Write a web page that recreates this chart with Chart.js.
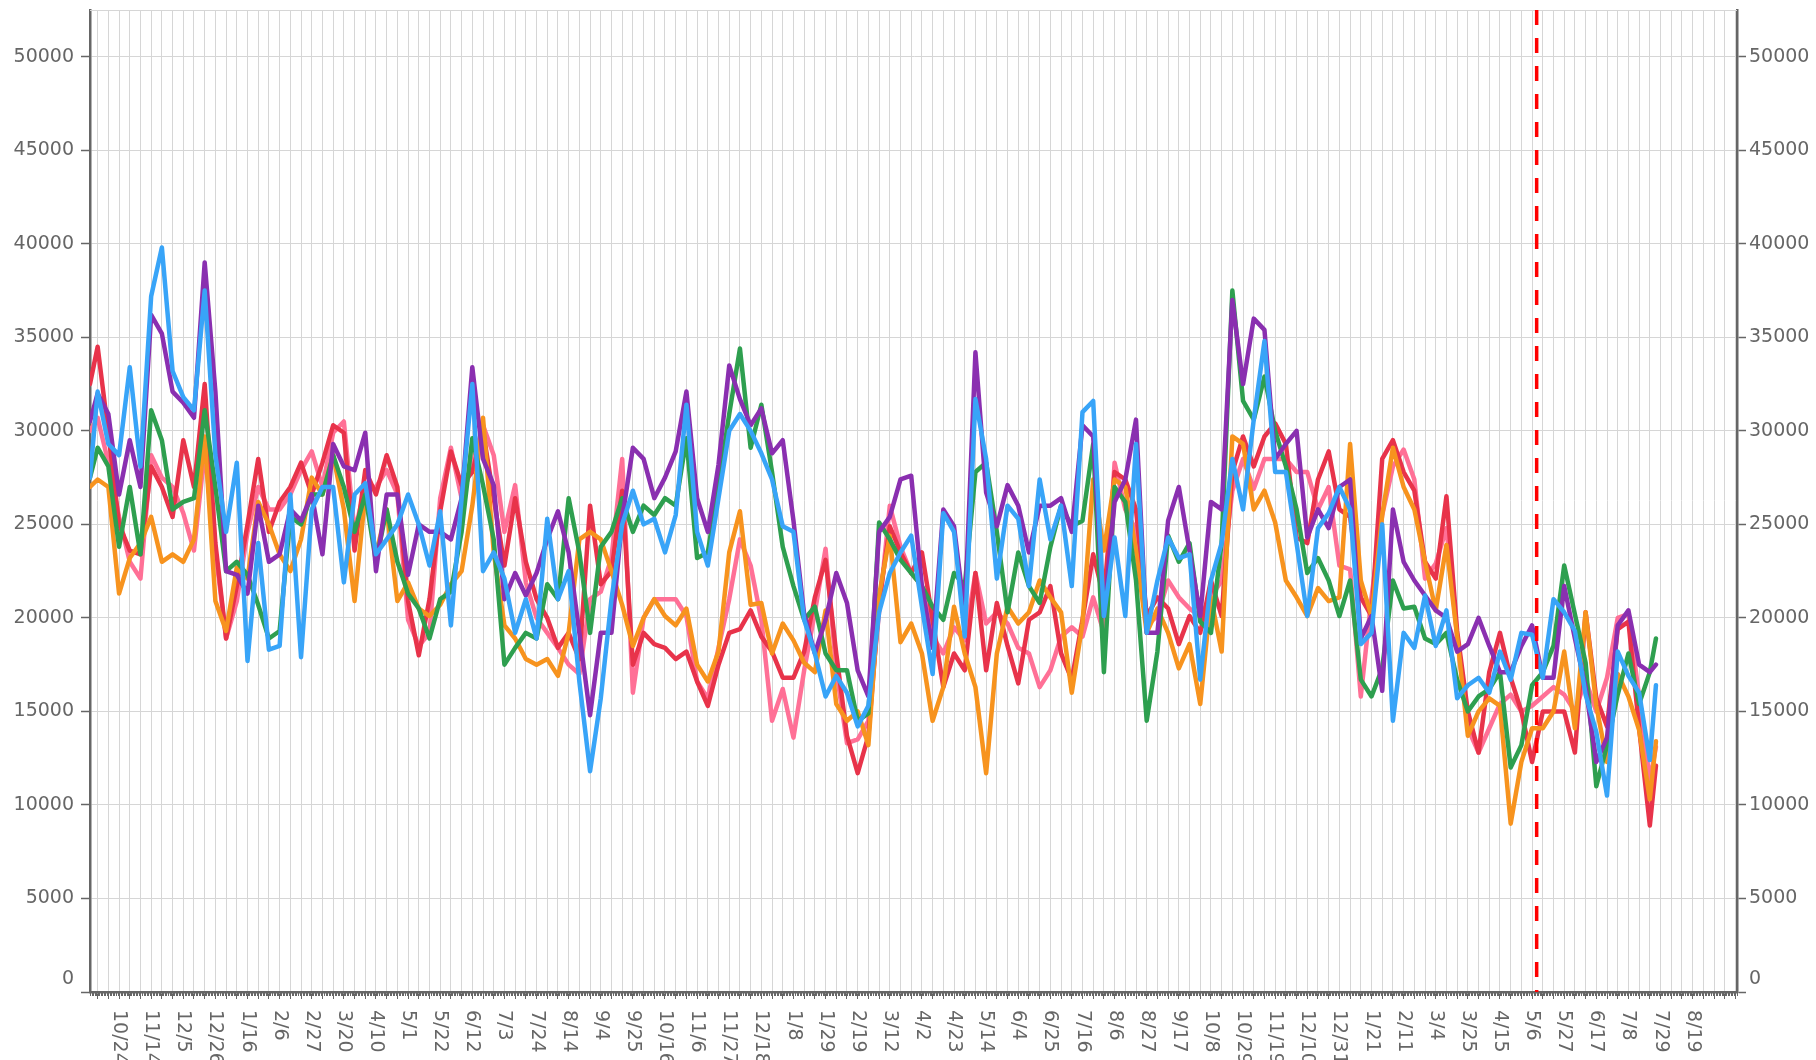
<!DOCTYPE html>
<html>
  <head>
    <meta charset="utf-8">
    <title>Daily counts</title>
    <script src="https://cdn.jsdelivr.net/npm/chart.js"></script>
    <style>
      body { margin: 0; background: #fff; }
      canvas { display: block; }
    </style>
  </head>
  <body>
    <canvas id="myChart" width="1816" height="1060"></canvas>

    <script>
      // x values are day offsets, day 0 = 2020-10-24
      const days = [
        -19, -14, -7,
        0, 7, 14, 21, 28, 35, 42, 49, 56, 63,
        70, 77, 84, 91, 98, 105, 112, 119, 126, 133,
        140, 147, 154, 161, 168, 175, 182, 189, 196, 203,
        210, 217, 224, 231, 238, 245, 252, 259, 266, 273,
        280, 287, 294, 301, 308, 315, 322, 329, 336, 343,
        350, 357, 364, 371, 378, 385, 392, 399, 406, 413,
        420, 427, 434, 441, 448, 455, 462, 469, 476, 483,
        490, 497, 504, 511, 518, 525, 532, 539, 546, 553,
        560, 567, 574, 581, 588, 595, 602, 609, 616, 623,
        630, 637, 644, 651, 658, 665, 672, 679, 686, 693,
        700, 707, 714, 721, 728, 735, 742, 749, 756, 763,
        770, 777, 784, 791, 798, 805, 812, 819, 826, 833,
        840, 847, 854, 861, 868, 875, 882, 889, 896, 903,
        910, 917, 924, 931, 938, 945, 952, 959, 966, 973,
        980, 987, 994, 1001,
        1005
      ];

      const redValues = [
        32500, 34500, 29900,
        25000, 23600, 23400, 28100, 27000, 25400, 29500, 27000, 32500, 24000,
        18900, 21700, 25000, 28500, 24600, 26200, 27000, 28300, 26600, 28300,
        30300, 29900, 23600, 27900, 26600, 28700, 27000, 20900, 18000, 21000,
        25700, 28900, 27100, 27800, 30000, 26400, 22800, 26400, 23000, 21000,
        20000, 18400, 19200, 17800, 26000, 21800, 22500, 26800, 17500, 19200,
        18600, 18400, 17800, 18200, 16600, 15300, 17500, 19200, 19400, 20400,
        19000, 18200, 16800, 16800, 18200, 21100, 23100, 18100, 13700, 11700,
        13700, 20800, 24900, 23500, 22400, 23500, 19900, 16300, 18100, 17200,
        22400, 17200, 20800, 18500, 16500, 19900, 20300, 21700, 18100, 16700,
        19900, 23400, 21100, 27800, 27400, 25800, 20100, 21100, 20500, 18600,
        20100, 19200, 22000, 20100, 27800, 29700, 28100, 29700, 30400, 29300,
        24300, 24000, 27400, 28900, 25800, 25400, 21100, 20100, 28500, 29500,
        27800, 26800, 23000, 22100, 26500, 19300, 15000, 12800, 17100, 19200,
        16800, 15000, 12300, 15000, 15000, 15000, 12800, 20300, 15700, 14200,
        19400, 19800, 14100, 8900,
        12100
      ];

      const pinkValues = [
        30000, 30700, 28300,
        25400, 23000, 22100, 28700, 27500, 27000, 25600, 23600, 28900, 23600,
        18900, 20900, 24600, 27000, 25800, 25800, 26600, 27900, 28900, 27000,
        29900, 30500, 24600, 27000, 27000, 27900, 26600, 19900, 18500, 19200,
        26400, 29100, 26400, 28200, 30300, 28700, 24600, 27100, 21900, 20000,
        19200, 18400, 17500, 17000, 21000, 21400, 23200, 28500, 16000, 20000,
        21000, 21000, 21000, 20100, 16600, 15700, 18400, 21000, 24200, 22800,
        19900, 14500, 16200, 13600, 17200, 20300, 23700, 17200, 13300, 13500,
        14500, 20300, 26000, 23800, 22400, 21700, 19000, 18100, 19500, 18800,
        22400, 19700, 20300, 19700, 18400, 18100, 16300, 17200, 19000, 19500,
        19000, 21100, 19200, 28300, 25800, 24700, 19600, 20100, 22000, 21100,
        20500, 20100, 21100, 22000, 26800, 28500, 26900, 28500, 28500, 28500,
        27800, 27800, 25800, 27000, 22800, 22600, 15800, 21100, 25500, 28100,
        29000, 27400, 22100, 22900, 24800, 19000, 14100, 12800, 14100, 15400,
        15900, 15000, 15300, 15800, 16300, 15900, 15000, 16700, 15000, 16800,
        20000, 20200, 15800, 11300,
        13100
      ];

      const orangeValues = [
        27000, 27400, 27000,
        21300, 23200, 24000, 25400, 23000, 23400, 23000, 24200, 29700, 20900,
        19300, 22700, 22100, 26200, 25000, 23400, 22500, 24200, 27500, 26600,
        28700, 25800, 20900, 26600, 23400, 25800, 20900, 21900, 20500, 20100,
        20700, 21800, 22500, 26000, 30700, 23500, 19600, 18900, 17800, 17500,
        17800, 16900, 19200, 24200, 24600, 24200, 22500, 20700, 18500, 20000,
        21000, 20100, 19600, 20500, 17500, 16600, 18200, 23500, 25700, 20700,
        20800, 18100, 19700, 18800, 17600, 17100, 20400, 15400, 14500, 15000,
        13200, 21200, 24400, 18700, 19700, 18100, 14500, 16300, 20600, 18100,
        16300, 11700, 18100, 20600, 19700, 20300, 22000, 21100, 20300, 16000,
        19700, 27400, 23600, 27400, 27000, 23600, 19200, 20500, 19200, 17300,
        18600, 15400, 21100, 18200, 29700, 29300, 25800, 26800, 25100, 22000,
        21100, 20100, 21600, 20900, 21100, 29300, 22000, 20100, 25500, 29100,
        27000, 25800, 23000, 20400, 23900, 19000, 13700, 15000, 15700, 15300,
        9000, 12300, 14100, 14100, 15000, 18200, 14100, 20300, 15300, 12300,
        17000, 15800, 14000, 10300,
        13400
      ];

      const greenValues = [
        27500, 29100, 28100,
        23800, 27000, 23400, 31100, 29500, 25800, 26200, 26400, 31100, 27000,
        22500, 23000, 22300, 20700, 18900, 19300, 25400, 25000, 26600, 26600,
        28700, 27000, 24600, 26600, 23000, 25800, 23000, 21300, 20500, 18900,
        21000, 21400, 24600, 29600, 27100, 24200, 17500, 18400, 19200, 18900,
        21800, 21000, 26400, 23500, 19200, 23800, 24600, 26400, 24600, 26000,
        25500, 26400, 26000, 29600, 23200, 23500, 27100, 30900, 34400, 29100,
        31400, 27800, 23800, 21700, 19900, 20600, 18100, 17200, 17200, 14500,
        14900, 25100, 24200, 23100, 22400, 21700, 20600, 19900, 22400, 21700,
        27800, 28300, 24600, 20300, 23500, 21700, 20800, 23800, 26000, 24900,
        25200, 29300, 17100, 27000, 26200, 22000, 14500, 18200, 24400, 23000,
        24000, 19800, 19200, 24000, 37500, 31600, 30600, 32900, 30000, 28100,
        25800, 22400, 23200, 22000, 20100, 22000, 16700, 15800, 17300, 22000,
        20500, 20600, 18900, 18600, 19200, 16700, 15000, 15800, 16200, 17100,
        12000, 13200, 16400, 17100, 18500, 22800, 20200, 17600, 11000, 13200,
        15900, 18100, 15400, 17100,
        18900
      ];

      const purpleValues = [
        30500, 32000, 30900,
        26600, 29500, 27000, 36200, 35200, 32100, 31500, 30700, 39000, 32100,
        22500, 22300, 21300, 26000, 23000, 23400, 25800, 25200, 26600, 23400,
        29300, 28100, 27900, 29900, 22500, 26600, 26600, 22300, 25000, 24600,
        24600, 24200, 26400, 33400, 28500, 27100, 21000, 22400, 21200, 22400,
        24200, 25700, 23500, 19200, 14800, 19200, 19200, 25300, 29100, 28500,
        26400, 27500, 28900, 32100, 26400, 24600, 28200, 33500, 31700, 30300,
        31200, 28800, 29500, 25200, 20200, 18100, 19900, 22400, 20800, 17200,
        15800, 24600, 25400, 27400, 27600, 21700, 18400, 25800, 24900, 20200,
        34200, 26700, 24900, 27100, 26000, 23500, 26000, 26000, 26400, 24600,
        30300, 29700, 20100, 26200, 27400, 30600, 19200, 19200, 25200, 27000,
        23600, 20100, 26200, 25800, 37000, 32500, 36000, 35400, 28500, 29300,
        30000, 24300, 25800, 24800, 27000, 27400, 18900, 20100, 16100, 25800,
        23000, 22000, 21200, 20400, 20000, 18200, 18600, 20000, 18500, 17100,
        17100, 18500, 19600, 16800, 16800, 21700, 18900, 16300, 12300, 13600,
        19600, 20400, 17500, 17100,
        17500
      ];

      const blueValues = [
        27500, 32100, 29300,
        28700, 33400, 28100, 37200, 39800, 33200, 31800, 31100, 37500, 28700,
        24600, 28300, 17700, 24000, 18300, 18500, 26600, 17900, 25800, 27000,
        27000, 21900, 26600, 27200, 23400, 24200, 25000, 26600, 25000, 22800,
        25700, 19600, 26400, 32500, 22500, 23500, 22100, 19200, 21000, 18900,
        25300, 21000, 22500, 16600, 11800, 15700, 21000, 25000, 26800, 25000,
        25300, 23500, 25500, 31400, 24600, 22800, 26400, 30000, 30900, 30000,
        28800, 27400, 24900, 24600, 19900, 18100, 15800, 16900, 16000, 14200,
        15300, 20300, 22400, 23500, 24400, 20600, 17000, 25600, 24600, 19000,
        31700, 28500, 22100, 26000, 25300, 21700, 27400, 24200, 26000, 21700,
        31000, 31600, 20100, 24300, 20100, 29300, 19200, 22000, 24300, 23200,
        23400, 16700, 22000, 24000, 28500, 25800, 30600, 34800, 27800, 27800,
        24000, 20100, 24800, 25600, 27000, 25800, 18600, 19200, 25000, 14500,
        19200, 18400, 21200, 18500, 20400, 15700, 16400, 16800, 16000, 18200,
        16700, 19200, 19100, 16800, 21000, 20300, 19300, 15900, 13900, 10500,
        18200, 16900, 16000, 12400,
        16400
      ];

      // one label every three weeks, starting at day 0
      const tickLabels = [
        "10/24", "11/14", "12/5", "12/26", "1/16", "2/6", "2/27", "3/20", "4/10", "5/1",
        "5/22", "6/12", "7/3", "7/24", "8/14", "9/4", "9/25", "10/16", "11/6", "11/27",
        "12/18", "1/8", "1/29", "2/19", "3/12", "4/2", "4/23", "5/14", "6/4", "6/25",
        "7/16", "8/6", "8/27", "9/17", "10/8", "10/29", "11/19", "12/10", "12/31", "1/21",
        "2/11", "3/4", "3/25", "4/15", "5/6", "5/27", "6/17", "7/8", "7/29", "8/19"
      ];
      const labelEvery = 21;
      const xMin = -19;
      const xMax = 1058;
      const yMax = 52500;
      const yStep = 5000;
      const markerDay = 927;

      const textColor = "#666";
      const axisColor = "#666";
      const gridColor = "#d6d6d6";
      const labelFont = '19px "DejaVu Sans"';

      const series = [
        { data: blueValues, color: "#38a4f8" },
        { data: purpleValues, color: "#8a2fb0" },
        { data: greenValues, color: "#2e9f4f" },
        { data: orangeValues, color: "#f7931e" },
        { data: redValues, color: "#e8334a" },
        { data: pinkValues, color: "#ff7096" },
      ];

      const weeklyTicks = (scale) => {
        const ticks = [];
        for (let d = Math.ceil(scale.min / 7) * 7; d <= scale.max; d += 7) ticks.push({ value: d });
        scale.ticks = ticks;
      };
      const valueTicks = (scale) => {
        const ticks = [];
        for (let v = 0; v <= 50000; v += yStep) ticks.push({ value: v });
        scale.ticks = ticks;
      };

      // daily minor ticks, rotated date labels, value labels and the marker line
      const decorations = {
        id: "decorations",
        afterDraw(chart) {
          const { ctx, chartArea: area, scales } = chart;
          const x = scales.x;
          const y = scales.y;
          ctx.save();

          ctx.strokeStyle = gridColor;
          ctx.lineWidth = 1;
          ctx.beginPath();
          ctx.moveTo(area.left, area.top + 0.5);
          ctx.lineTo(area.right, area.top + 0.5);
          ctx.stroke();

          ctx.strokeStyle = axisColor;
          ctx.beginPath();
          for (let d = Math.ceil(x.min); d <= x.max; d++) {
            const px = Math.round(x.getPixelForValue(d)) + 0.5;
            ctx.moveTo(px, area.bottom);
            ctx.lineTo(px, area.bottom + 4);
          }
          ctx.stroke();

          ctx.fillStyle = textColor;
          ctx.font = labelFont;
          ctx.textAlign = "left";
          ctx.textBaseline = "middle";
          tickLabels.forEach((label, i) => {
            const px = x.getPixelForValue(i * labelEvery);
            ctx.save();
            ctx.translate(px, area.bottom + 18);
            ctx.rotate(Math.PI / 2);
            ctx.fillText(label, 0, 0);
            ctx.restore();
          });

          y.ticks.forEach((t) => {
            let py = y.getPixelForValue(t.value);
            if (t.value === 0) py -= 13;
            ctx.textAlign = "right";
            ctx.fillText(String(t.value), area.left - 16, py);
            ctx.textAlign = "left";
            ctx.fillText(String(t.value), area.right + 12, py);
          });

          const mx = x.getPixelForValue(markerDay);
          ctx.strokeStyle = "#ff0000";
          ctx.lineWidth = 3.5;
          ctx.setLineDash([15, 13]);
          ctx.beginPath();
          ctx.moveTo(mx, area.top);
          ctx.lineTo(mx, area.bottom);
          ctx.stroke();

          ctx.restore();
        },
      };

      const ctx = document.getElementById("myChart").getContext("2d");
      const myChart = new Chart(ctx, {
        type: "line",
        data: {
          datasets: series.map((s) => ({
            data: days.map((d, i) => ({ x: d, y: s.data[i] })),
            borderColor: s.color,
            backgroundColor: s.color,
            borderWidth: 4.5,
            borderJoinStyle: "round",
            borderCapStyle: "round",
            pointRadius: 0,
            tension: 0,
            fill: false,
          })),
        },
        options: {
          responsive: false,
          devicePixelRatio: 1,
          animation: false,
          events: [],
          layout: { padding: { top: 10, left: 0, right: 0, bottom: 0 } },
          plugins: { legend: { display: false }, tooltip: { enabled: false } },
          scales: {
            x: {
              type: "linear",
              position: "bottom",
              min: xMin,
              max: xMax,
              afterBuildTicks: weeklyTicks,
              afterFit: (scale) => { scale.height = 68; },
              ticks: { display: false },
              grid: { color: gridColor, lineWidth: 1, tickLength: 7, tickColor: axisColor, tickWidth: 1 },
              border: { color: axisColor, width: 2.5 },
            },
            y: {
              type: "linear",
              position: "left",
              min: 0,
              max: yMax,
              afterBuildTicks: valueTicks,
              afterFit: (scale) => { scale.width = 90; },
              ticks: { display: false },
              grid: { color: gridColor, lineWidth: 1, tickLength: 9, tickColor: axisColor, tickWidth: 1.5 },
              border: { color: axisColor, width: 2.5 },
            },
            y2: {
              type: "linear",
              position: "right",
              min: 0,
              max: yMax,
              afterBuildTicks: valueTicks,
              afterFit: (scale) => { scale.width = 79; },
              ticks: { display: false },
              grid: { drawOnChartArea: false, tickLength: 9, tickColor: axisColor, tickWidth: 1.5 },
              border: { color: axisColor, width: 2.5 },
            },
          },
        },
        plugins: [decorations],
      });
    </script>
  </body>
</html>
